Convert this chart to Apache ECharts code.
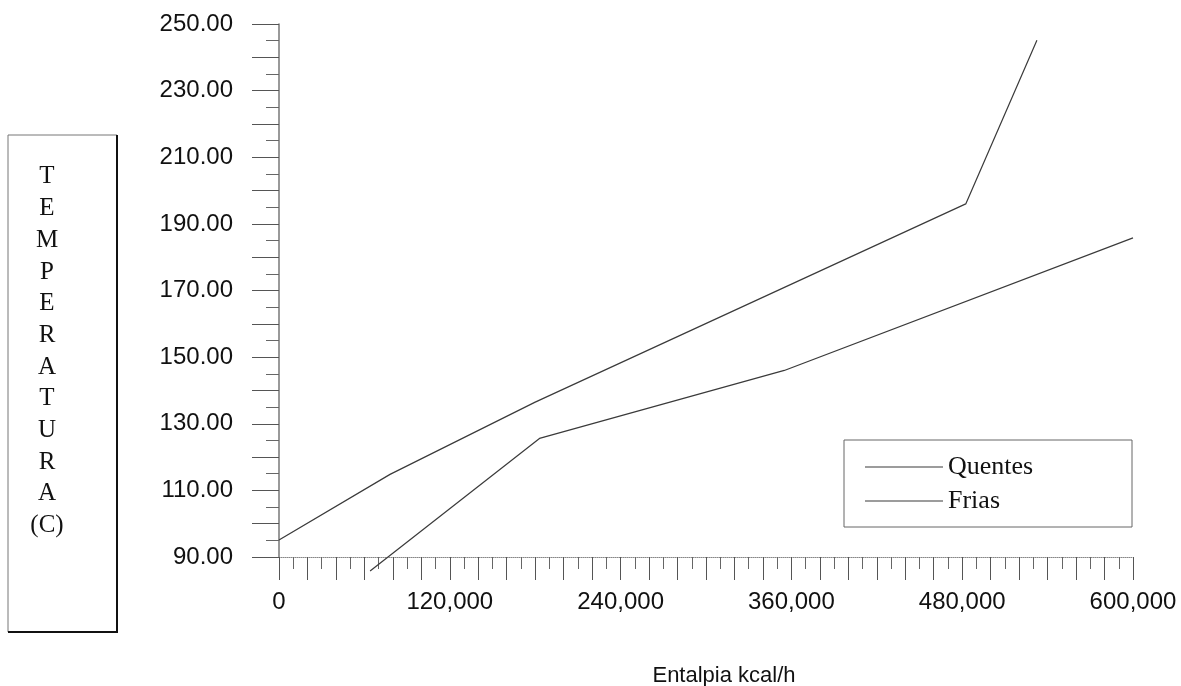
<!DOCTYPE html>
<html>
<head>
<meta charset="utf-8">
<script src="https://cdn.jsdelivr.net/npm/echarts@6/dist/echarts.min.js"></script>
<style>
  html, body { margin: 0; padding: 0; background: #fff; }
  #chart { width: 1181px; height: 686px; }
</style>
</head>
<body>
<div id="chart"></div>
<script>
// Composite curves: enthalpy (kcal/h) vs temperature (C)
const quentesEntalpia = [0, 78000, 180000, 482500, 532500];
const quentesTemp     = [95.1, 114.8, 136.5, 196.0, 245.1];

const friasEntalpia = [64000, 183000, 355000, 600000];
const friasTemp     = [85.8, 125.6, 146.0, 185.8];

const seriesNames = ['Quentes', 'Frias'];
const yTitleLetters = ['T', 'E', 'M', 'P', 'E', 'R', 'A', 'T', 'U', 'R', 'A', '(C)'];
const xTitle = 'Entalpia kcal/h';

const pairs = (xs, ys) => xs.map((x, i) => [x, ys[i]]);

const lineColor = '#3a3a3a';
const sansFont = '"Liberation Sans", Arial, sans-serif';
const serifFont = '"Liberation Serif", "Times New Roman", serif';

const chart = echarts.init(document.getElementById('chart'), null, { renderer: 'canvas' });

chart.setOption({
  backgroundColor: '#fff',
  animation: false,
  grid: { left: 279, top: 24, width: 854, height: 533, containLabel: false },
  xAxis: {
    type: 'value',
    min: 0,
    max: 600000,
    interval: 20000,
    splitLine: { show: false },
    axisLine: { show: true, onZero: false, lineStyle: { color: '#888', width: 1, type: 'dotted' } },
    axisTick: { show: true, inside: false, length: 23, lineStyle: { color: '#555', width: 1 } },
    minorTick: { show: true, splitNumber: 2, length: 12, lineStyle: { color: '#666', width: 1 } },
    axisLabel: {
      margin: 33,
      fontFamily: sansFont,
      fontSize: 24,
      color: '#111',
      formatter: v => (v % 120000 === 0 ? v.toLocaleString('en-US') : '')
    }
  },
  yAxis: {
    type: 'value',
    min: 90,
    max: 250,
    interval: 10,
    splitLine: { show: false },
    axisLine: { show: true, onZero: false, lineStyle: { color: '#777', width: 1.5 } },
    axisTick: { show: true, inside: false, length: 27, lineStyle: { color: '#555', width: 1 } },
    minorTick: { show: true, splitNumber: 2, length: 13, lineStyle: { color: '#666', width: 1 } },
    axisLabel: {
      margin: 46,
      fontFamily: sansFont,
      fontSize: 24,
      color: '#111',
      formatter: v => ((v - 90) % 20 === 0 ? v.toFixed(2) : '')
    }
  },
  legend: {
    data: seriesNames,
    orient: 'vertical',
    left: 860,
    top: 449,
    itemGap: 8,
    itemWidth: 78,
    itemHeight: 1,
    icon: 'rect',
    textStyle: { fontFamily: serifFont, fontSize: 26, color: '#111' }
  },
  graphic: [
    // legend frame
    {
      type: 'rect',
      shape: { x: 844, y: 440, width: 288, height: 87 },
      style: { fill: 'none', stroke: '#666', lineWidth: 1 },
      silent: true
    },
    // boxed vertical axis title
    {
      type: 'rect',
      shape: { x: 8, y: 135, width: 109, height: 497 },
      style: { fill: 'none', stroke: '#777', lineWidth: 1 },
      silent: true
    },
    {
      type: 'polyline',
      shape: { points: [[117, 135], [117, 632], [8, 632]] },
      style: { stroke: '#111', lineWidth: 2, fill: 'none' },
      silent: true
    },
    {
      type: 'text',
      x: 47,
      y: 161,
      style: {
        text: yTitleLetters.join('\n'),
        fontFamily: serifFont,
        fontSize: 25,
        lineHeight: 31.7,
        align: 'center',
        verticalAlign: 'top',
        fill: '#111'
      },
      silent: true
    },
    // horizontal axis title
    {
      type: 'text',
      x: 724,
      y: 676,
      style: {
        text: xTitle,
        fontFamily: sansFont,
        fontSize: 22,
        align: 'center',
        verticalAlign: 'middle',
        fill: '#111'
      },
      silent: true
    }
  ],
  series: [
    {
      name: seriesNames[0],
      type: 'line',
      data: pairs(quentesEntalpia, quentesTemp),
      symbol: 'none',
      clip: false,
      lineStyle: { color: lineColor, width: 1.2 },
      itemStyle: { color: lineColor }
    },
    {
      name: seriesNames[1],
      type: 'line',
      data: pairs(friasEntalpia, friasTemp),
      symbol: 'none',
      clip: false,
      lineStyle: { color: lineColor, width: 1.2 },
      itemStyle: { color: lineColor }
    }
  ]
});
</script>
</body>
</html>
